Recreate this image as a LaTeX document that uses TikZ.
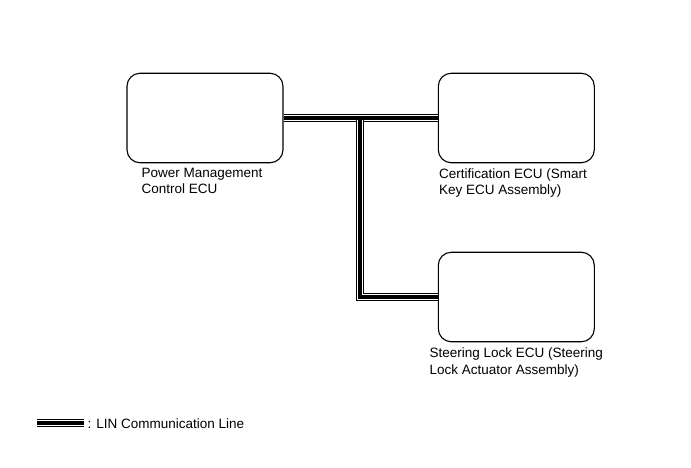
\documentclass[tikz,border=0pt]{standalone}
\usepackage{fontspec}
\setmainfont{Liberation Sans}
\usepackage{tikz}
\tikzset{ecu/.style={draw, line width=1.1pt, rounded corners=13pt, minimum width=156pt, minimum height=89.5pt, inner sep=0pt},
  lbl/.style={anchor=base west, align=left, inner sep=0pt, font=\fontsize{13.5}{16.8}\selectfont},
  linout/.style={double=white, double distance=6.5pt, line width=1.2pt},
  linmid/.style={line width=3.8pt}}

\begin{document}
\begin{tikzpicture}[x=1pt, y=-1pt]
 \useasboundingbox (0,0) rectangle (691,467);

 \node[ecu] (pm)    at (205,   118) {};
 \node[ecu] (cert)  at (516.3, 118) {};
 \node[ecu] (slock) at (516.3, 297) {};

 % base of a two-line label is its last line
 \node[lbl] (pmtxt)    at (141.5, 193.8) {Power Management\\Control ECU};
 \node[lbl] (certtxt)  at (439,   194.8) {Certification ECU (Smart\\Key ECU Assembly)};
 \node[lbl] (slocktxt) at (429.5, 374.5) {Steering Lock ECU (Steering\\Lock Actuator Assembly)};

 \coordinate (j)  at (360, 118);
 \coordinate (lg) at (36.5, 423);
 \node[lbl] (legend) at (87.5, 428.3) {: LIN Communication Line};

 % LIN bus
 \draw[linout] (pm.east) -- (cert.west);
 \draw[linout] (j) |- (slock.west);
 \draw[linout, shorten >=4pt] (lg) -- (lg -| legend.west);
 \draw[linmid] (pm.east) -- (cert.west);
 \draw[linmid] (j) |- (slock.west);
 \draw[linmid, shorten >=4pt] (lg) -- (lg -| legend.west);
\end{tikzpicture}
\end{document}
